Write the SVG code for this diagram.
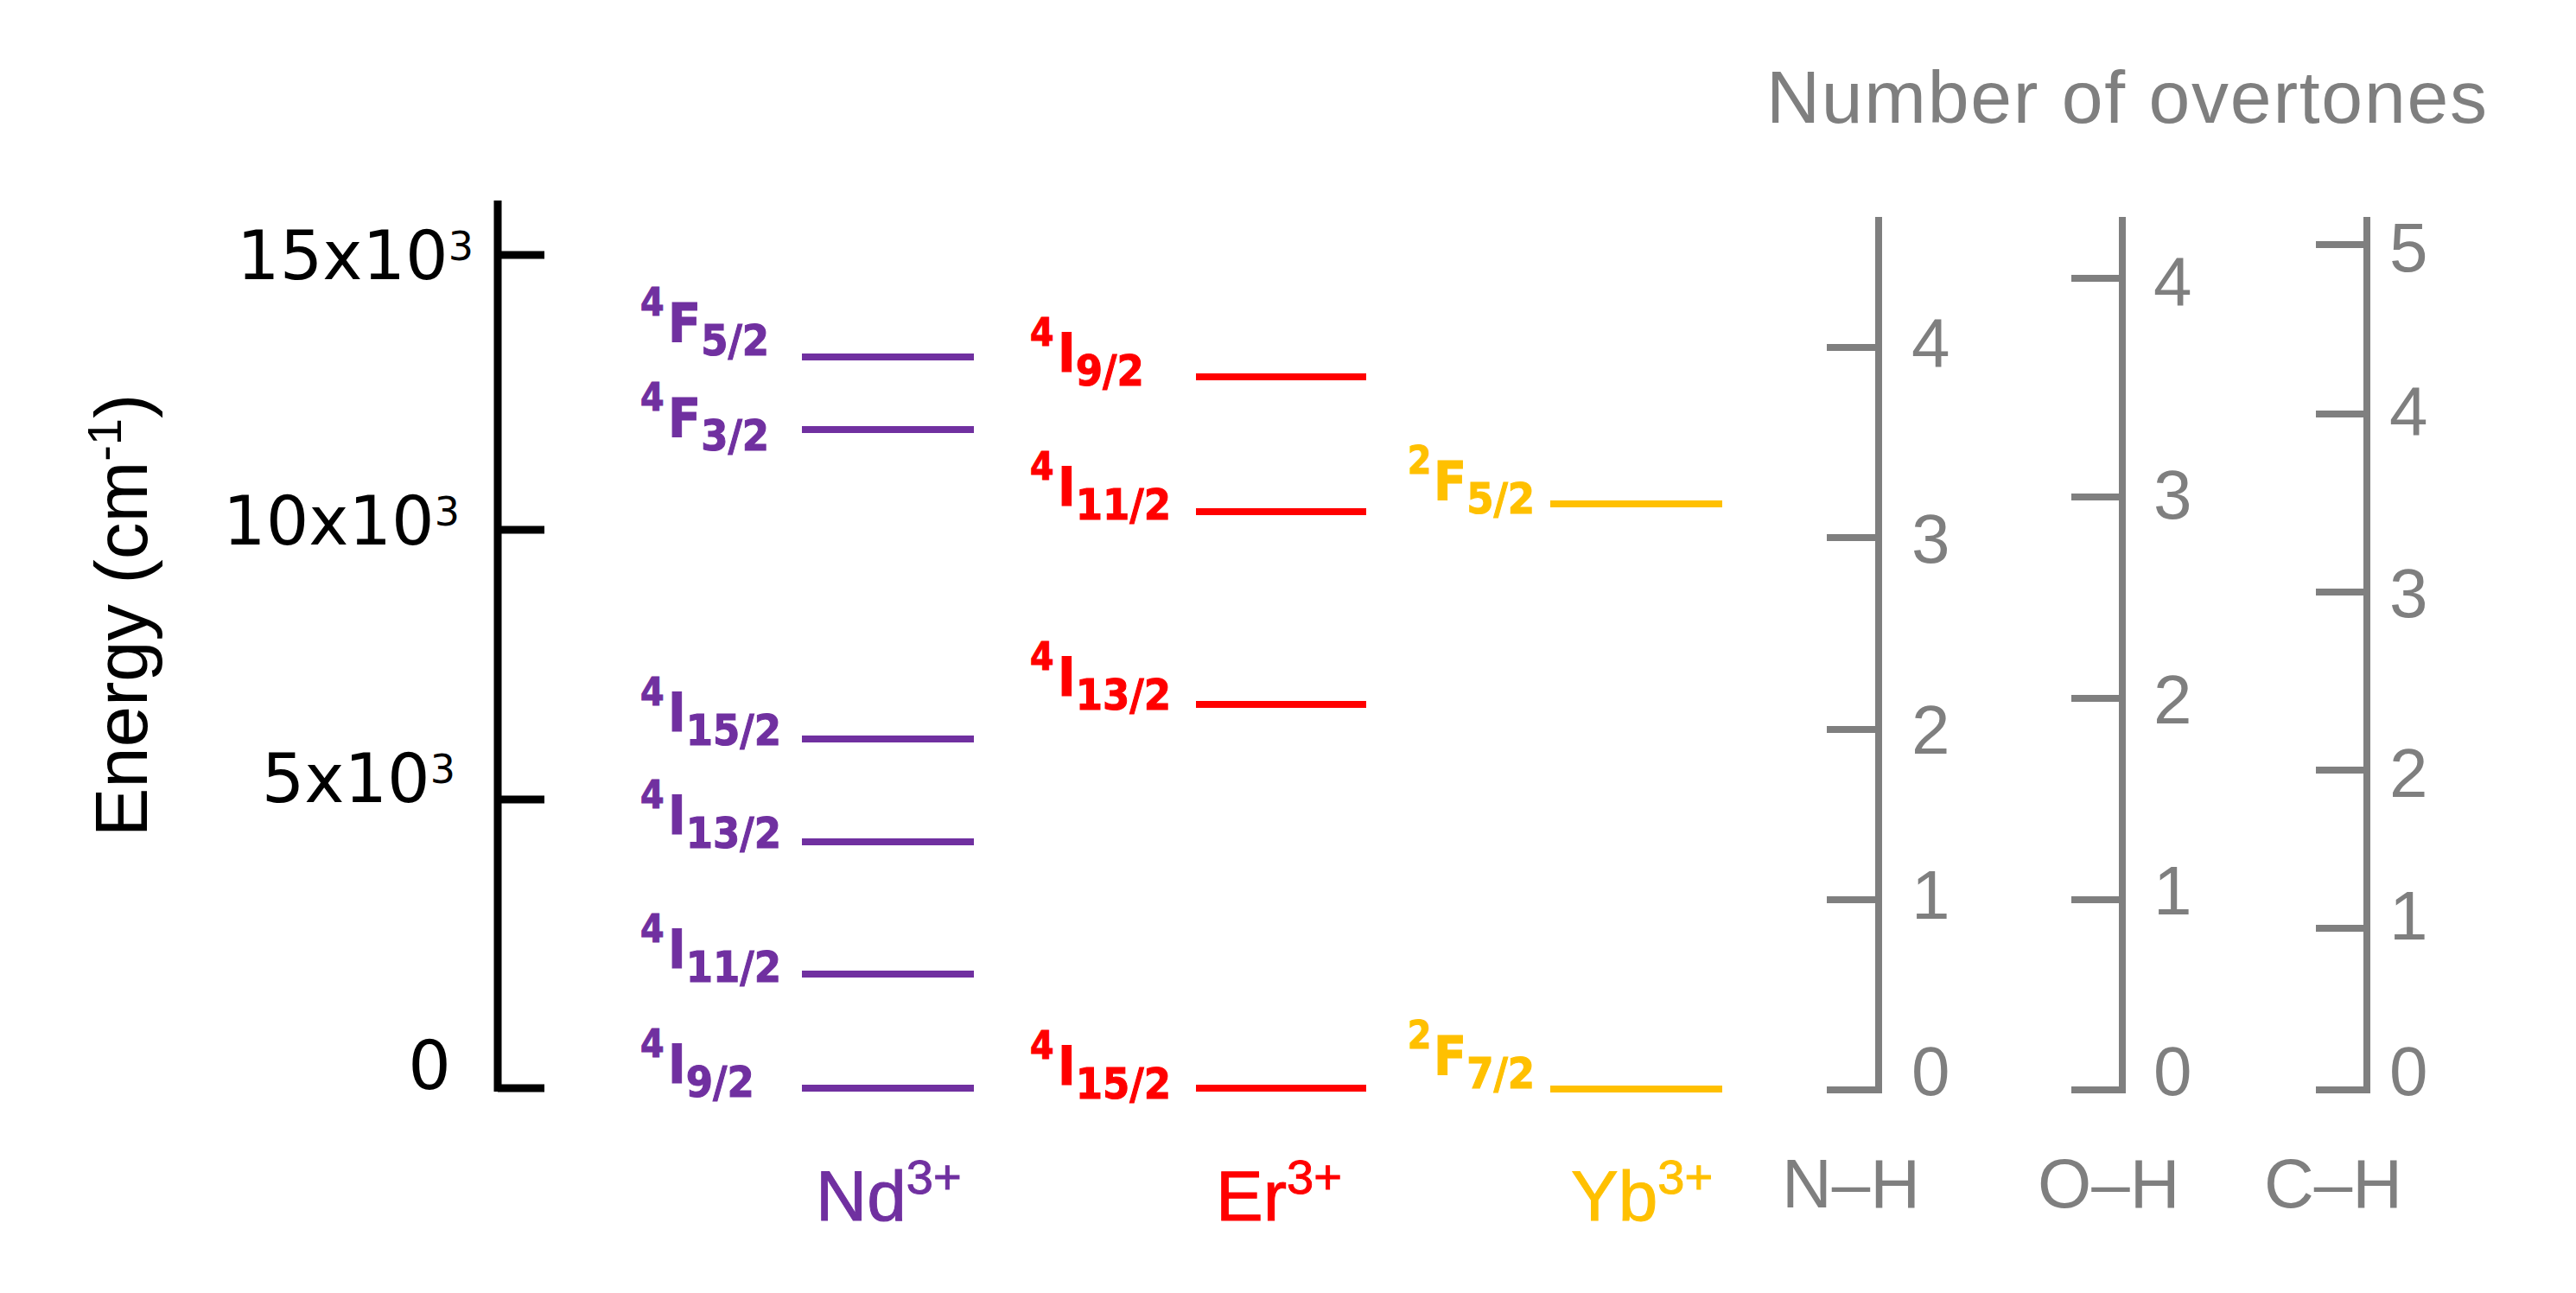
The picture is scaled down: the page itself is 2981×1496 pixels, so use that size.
<svg xmlns="http://www.w3.org/2000/svg" width="2981" height="1496" viewBox="0 0 2981 1496">
<style>
.ax{stroke:#000;stroke-width:9;fill:none}
.gx{stroke:#7f7f7f;stroke-width:8;fill:none;stroke-linecap:butt}
.lvl{stroke-width:8;fill:none}
.nd{fill:#7030a0;stroke:#7030a0}
.er{fill:#ff0000;stroke:#ff0000}
.yb{fill:#ffc000;stroke:#ffc000}
text{stroke:none}
.tick{font-family:"DejaVu Sans",sans-serif;font-size:78px;fill:#000}
.tsup{font-size:46px}
.lab{font-family:"DejaVu Sans Condensed","DejaVu Sans",sans-serif;font-stretch:condensed;font-weight:bold}
.sp{font-size:44px}
.mn{font-size:62px}
.sb{font-size:50px}
.g{font-family:"Liberation Sans",Arial,sans-serif;fill:#7f7f7f}
.dig{font-size:80px}
.ion{font-family:"Liberation Sans",Arial,sans-serif;font-size:82px}
.isup{font-size:56px}
</style>
<rect width="2981" height="1496" fill="#fff"/>

<g id="energy-axis">
<path class="ax" d="M576,232 V1263 M576,295 H630 M576,613 H630 M576,925 H630 M576,1259 H630"/>
<text class="tick" x="548" y="323" text-anchor="end">15x10<tspan class="tsup" dy="-22">3</tspan></text>
<text class="tick" x="532" y="630" text-anchor="end">10x10<tspan class="tsup" dy="-22">3</tspan></text>
<text class="tick" x="527" y="928" text-anchor="end">5x10<tspan class="tsup" dy="-22">3</tspan></text>
<text class="tick" x="522" y="1260" text-anchor="end">0</text>
<text font-family="Liberation Sans, Arial, sans-serif" font-size="85" fill="#000" text-anchor="middle" transform="translate(170,712) rotate(-90)">Energy (cm<tspan font-size="56" dy="-30">-1</tspan><tspan dy="30">)</tspan></text>
</g>

<g id="nd-levels">
<path class="lvl nd" d="M928,413 H1127 M928,497 H1127 M928,855 H1127 M928,974 H1127 M928,1127 H1127 M928,1259 H1127"/>
<text class="lab nd" x="741"><tspan class="sp" y="365">4</tspan><tspan class="mn" x="773" y="395">F</tspan><tspan class="sb" y="411">5/2</tspan></text>
<text class="lab nd" x="741"><tspan class="sp" y="475">4</tspan><tspan class="mn" x="773" y="505">F</tspan><tspan class="sb" y="521">3/2</tspan></text>
<text class="lab nd" x="741"><tspan class="sp" y="816">4</tspan><tspan class="mn" x="773" y="846">I</tspan><tspan class="sb" y="862">15/2</tspan></text>
<text class="lab nd" x="741"><tspan class="sp" y="935">4</tspan><tspan class="mn" x="773" y="965">I</tspan><tspan class="sb" y="981">13/2</tspan></text>
<text class="lab nd" x="741"><tspan class="sp" y="1090">4</tspan><tspan class="mn" x="773" y="1120">I</tspan><tspan class="sb" y="1136">11/2</tspan></text>
<text class="lab nd" x="741"><tspan class="sp" y="1223">4</tspan><tspan class="mn" x="773" y="1253">I</tspan><tspan class="sb" y="1269">9/2</tspan></text>
<text class="ion nd" x="944" y="1412">Nd<tspan class="isup" dy="-31">3+</tspan></text>
</g>

<g id="er-levels">
<path class="lvl er" d="M1384,436 H1581 M1384,592 H1581 M1384,815 H1581 M1384,1259 H1581"/>
<text class="lab er" x="1192"><tspan class="sp" y="400">4</tspan><tspan class="mn" x="1224" y="430">I</tspan><tspan class="sb" y="446">9/2</tspan></text>
<text class="lab er" x="1192"><tspan class="sp" y="555">4</tspan><tspan class="mn" x="1224" y="585">I</tspan><tspan class="sb" y="601">11/2</tspan></text>
<text class="lab er" x="1192"><tspan class="sp" y="775">4</tspan><tspan class="mn" x="1224" y="805">I</tspan><tspan class="sb" y="821">13/2</tspan></text>
<text class="lab er" x="1192"><tspan class="sp" y="1225">4</tspan><tspan class="mn" x="1224" y="1255">I</tspan><tspan class="sb" y="1271">15/2</tspan></text>
<text class="ion er" x="1407" y="1412">Er<tspan class="isup" dy="-31">3+</tspan></text>
</g>

<g id="yb-levels">
<path class="lvl yb" d="M1794,583 H1993 M1794,1260 H1993"/>
<text class="lab yb" x="1629"><tspan class="sp" y="548">2</tspan><tspan class="mn" x="1659" y="578">F</tspan><tspan class="sb" y="594">5/2</tspan></text>
<text class="lab yb" x="1629"><tspan class="sp" y="1213">2</tspan><tspan class="mn" x="1659" y="1243">F</tspan><tspan class="sb" y="1259">7/2</tspan></text>
<text class="ion yb" x="1818" y="1412">Yb<tspan class="isup" dy="-31">3+</tspan></text>
</g>

<text class="g" x="2044" y="142" font-size="86" textLength="834" lengthAdjust="spacing">Number of overtones</text>

<g id="nh-overtones">
<path class="gx" d="M2174,251 V1261 H2114 M2114,402 H2174 M2114,622 H2174 M2114,844 H2174 M2114,1041 H2174"/>
<g class="g dig">
<text x="2212" y="424">4</text><text x="2212" y="651">3</text><text x="2212" y="872">2</text><text x="2212" y="1063">1</text><text x="2212" y="1267">0</text>
</g>
<text class="g dig" x="2062" y="1397">N–H</text>
</g>

<g id="oh-overtones">
<path class="gx" d="M2456,251 V1261 H2397 M2397,322 H2456 M2397,575 H2456 M2397,808 H2456 M2397,1041 H2456"/>
<g class="g dig">
<text x="2492" y="353">4</text><text x="2492" y="600">3</text><text x="2492" y="837">2</text><text x="2492" y="1058">1</text><text x="2492" y="1267">0</text>
</g>
<text class="g dig" x="2358" y="1397">O–H</text>
</g>

<g id="ch-overtones">
<path class="gx" d="M2739,251 V1261 H2680 M2680,283 H2739 M2680,479 H2739 M2680,685 H2739 M2680,891 H2739 M2680,1074 H2739"/>
<g class="g dig">
<text x="2765" y="314">5</text><text x="2765" y="503">4</text><text x="2765" y="714">3</text><text x="2765" y="922">2</text><text x="2765" y="1087">1</text><text x="2765" y="1267">0</text>
</g>
<text class="g dig" x="2620" y="1397">C–H</text>
</g>

<g id="connectors"></g>
</svg>
